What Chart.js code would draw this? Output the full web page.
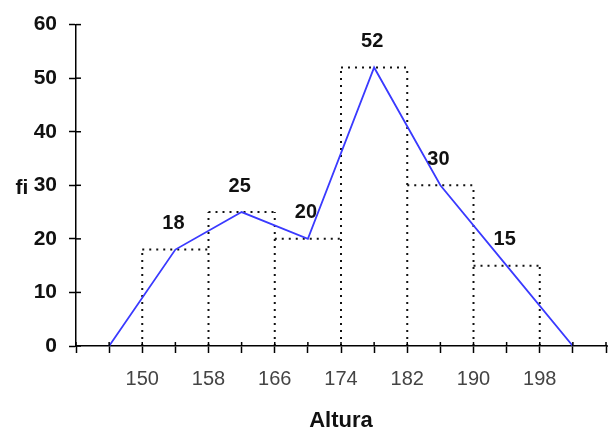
<!DOCTYPE html>
<html>
<head>
<meta charset="utf-8">
<script src="https://cdn.jsdelivr.net/npm/chart.js@4"></script>
<style>
  html, body { margin: 0; padding: 0; background: #fff; }
  #wrap { width: 608px; height: 430px; }
</style>
</head>
<body>
<div id="wrap"><canvas id="grafico"></canvas></div>
<script>
// limites de clase y frecuencias
var limites = [150, 158, 166, 174, 182, 190, 198];
var frecuencias = [18, 25, 20, 52, 30, 15];
// polígono: marcas de clase, con un punto vacío a cada lado
var marcas = [146, 154, 162, 170, 178, 186, 194, 202];
var poligono = [0, 18, 25, 20, 52, 30, 15, 0];
var ticksY = [0, 10, 20, 30, 40, 50, 60];

// contorno de las barras (rectángulos punteados), cada borde una sola vez
var barras = [];
for (var i = 0; i < limites.length; i++) {
    var h = Math.max(frecuencias[i - 1] || 0, frecuencias[i] || 0);
    barras.push({x: limites[i], y: 0});
    barras.push({x: limites[i], y: h});
    barras.push({x: limites[i], y: null});
}
for (var j = 0; j < frecuencias.length; j++) {
    barras.push({x: limites[j], y: frecuencias[j]});
    barras.push({x: limites[j + 1], y: frecuencias[j]});
    barras.push({x: limites[j + 1], y: null});
}
var puntos = marcas.map(function(m, i) { return {x: m, y: poligono[i]}; });

var etiquetas = {
    id: 'etiquetas',
    afterDatasetsDraw: function(chart) {
        var ctx = chart.ctx;
        var sx = chart.scales.x, sy = chart.scales.y;
        var area = chart.chartArea;
        ctx.save();
        ctx.fillStyle = '#111';
        ctx.font = 'bold 20px "Liberation Sans", Arial, sans-serif';
        ctx.textAlign = 'center';
        ctx.textBaseline = 'middle';
        for (var i = 1; i < marcas.length - 1; i++) {
            ctx.fillText(String(poligono[i]), sx.getPixelForValue(marcas[i]) - 2, sy.getPixelForValue(poligono[i]) - 26);
        }
        ctx.font = 'bold 21px "Liberation Sans", Arial, sans-serif';
        ctx.fillText('fi', 22, (area.top + area.bottom) / 2 + 3);
        // marcas de los ejes hacia adentro
        ctx.strokeStyle = '#000';
        ctx.lineWidth = 1.5;
        ticksY.forEach(function(v) {
            var py = sy.getPixelForValue(v);
            ctx.beginPath();
            ctx.moveTo(area.left, py);
            ctx.lineTo(area.left + 5, py);
            ctx.stroke();
        });
        sx.ticks.forEach(function(t) {
            var px = sx.getPixelForValue(t.value);
            ctx.beginPath();
            ctx.moveTo(px, area.bottom);
            ctx.lineTo(px, area.bottom - 4);
            ctx.stroke();
        });
        // el eje x sigue hasta el borde
        ctx.beginPath();
        ctx.moveTo(area.right, area.bottom);
        ctx.lineTo(chart.width, area.bottom);
        ctx.stroke();
        ctx.restore();
    }
};

var ctx = document.getElementById('grafico').getContext('2d');
var grafico = new Chart(ctx, {
    type: 'line',
    data: {
        datasets: [{
            data: puntos,
            borderColor: '#3a3aff',
            borderWidth: 1.8,
            pointRadius: 0,
            tension: 0
        }, {
            data: barras,
            borderColor: '#111',
            borderWidth: 2,
            borderDash: [2, 5],
            pointRadius: 0,
            spanGaps: false,
            tension: 0
        }]
    },
    plugins: [etiquetas],
    options: {
        responsive: true,
        maintainAspectRatio: false,
        animation: false,
        layout: { padding: { left: 0, right: 2, top: 17, bottom: 0 } },
        plugins: { legend: { display: false }, tooltip: { enabled: false } },
        scales: {
            x: {
                type: 'linear',
                min: 142,
                max: 206,
                afterFit: function(axis) {
                    axis.height = 84;
                    axis.paddingLeft = 0;
                    axis.paddingRight = 0;
                },
                grid: { drawOnChartArea: false, color: '#000', tickLength: 7, tickWidth: 1.5 },
                border: { color: '#000', width: 1.5 },
                ticks: {
                    stepSize: 4,
                    autoSkip: false,
                    maxRotation: 0,
                    padding: 14,
                    color: '#444',
                    font: { family: '"Liberation Sans", Arial, sans-serif', size: 20 },
                    callback: function(v) {
                        return (limites.indexOf(v) >= 0) ? String(v) : '';
                    }
                },
                title: {
                    display: true,
                    text: 'Altura',
                    color: '#111',
                    padding: { top: 4, bottom: -4 },
                    font: { family: '"Liberation Sans", Arial, sans-serif', size: 22, weight: 'bold' }
                }
            },
            y: {
                min: 0,
                max: 60,
                afterBuildTicks: function(axis) {
                    axis.ticks = ticksY.map(function(v) { return {value: v}; });
                },
                afterFit: function(axis) { axis.width = 76; },
                grid: { drawOnChartArea: false, color: '#000', tickLength: 7, tickWidth: 1.5 },
                border: { color: '#000', width: 1.5 },
                ticks: {
                    padding: 12,
                    color: '#111',
                    font: { family: '"Liberation Sans", Arial, sans-serif', size: 21, weight: 'bold' }
                }
            }
        }
    }
});
</script>
</body>
</html>
